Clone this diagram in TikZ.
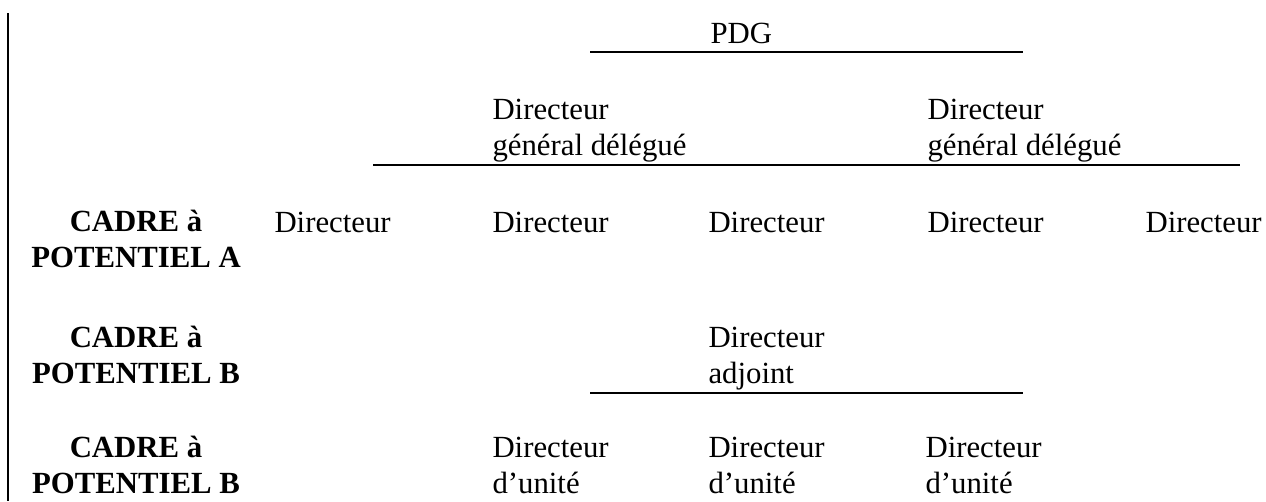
\documentclass[tikz,border=0pt]{standalone}
\usepackage{fontspec}
\setmainfont{Liberation Serif}
\begin{document}
\begin{tikzpicture}[x=0.39pt,y=-0.39pt,
		lbl/.style={inner sep=0pt,anchor=base west,align=left,font=\fontsize{12}{13.7}\selectfont},
		cadre/.style={inner sep=0pt,anchor=base,align=center,font=\fontsize{12}{13.7}\selectfont\bfseries},
		rule/.style={line width=0.6pt}]
				\useasboundingbox (0,0) rectangle (1266,501);
				% left margin
				\draw[line width=0.8pt] (8,13) -- (8,501);
				% top (base = last line)
				\node[lbl] (pdg) at (710,43) {PDG};
				\draw[rule] (590,52) -- (1023,52);
				\node[lbl] (dga) at (492,155) {Directeur\\général délégué};
				\node[lbl] (dgb) at (927,155) {Directeur\\général délégué};
				\draw[rule] (373,165) -- (1240,165);
				% potentiel A
				\node[cadre] (cadreA) at (136,267) {CADRE à\\POTENTIEL A};
				\foreach \x/\n in {274/1,492/2,708/3,927/4,1145/5}
					\node[lbl] (dir\n) at (\x,232) {Directeur};
				% potentiel B
				\node[cadre] (cadreB) at (136,383) {CADRE à\\POTENTIEL B};
				\node[lbl] (adj) at (708,383) {Directeur\\adjoint};
				\draw[rule] (590,393) -- (1023,393);
				% potentiel B, unites
				\node[cadre] (cadreC) at (136,493) {CADRE à\\POTENTIEL B};
				\foreach \x/\n in {492/1,708/2,925/3}
					\node[lbl] (unit\n) at (\x,493) {Directeur\\d’unité};
\end{tikzpicture}
\end{document}
